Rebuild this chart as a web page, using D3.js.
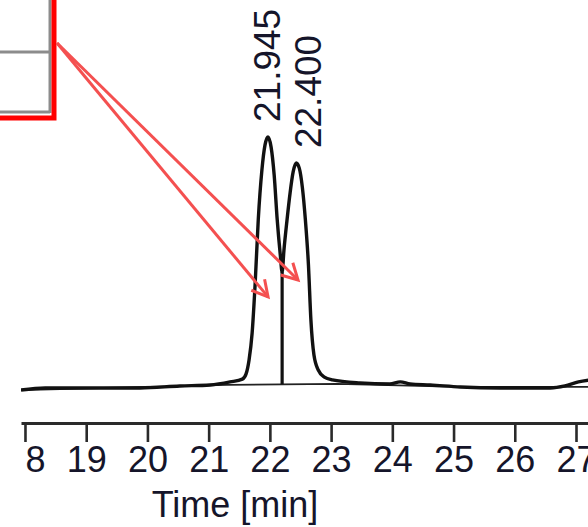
<!DOCTYPE html>
<html>
<head>
<meta charset="utf-8">
<script src="https://cdn.jsdelivr.net/npm/d3@7"></script>
<style>
  body { margin: 0; background: #fff; }
  svg { display: block; font-family: "Liberation Sans", Arial, sans-serif; }
</style>
</head>
<body>
<div id="chrom"></div>
<script>
// retention time (min) and detector signal (% of largest peak)
var sigTime = [17.935, 18.33, 19.06, 19.88, 20.53, 21.02, 21.35, 21.55, 21.61, 21.66, 21.71, 21.76,
               21.81, 21.87, 21.92, 21.97, 22.02, 22.07, 22.12, 22.17, 22.20, 22.23, 22.28, 22.33,
               22.38, 22.43, 22.48, 22.53, 22.58, 22.63, 22.67, 22.72, 22.79, 22.89, 23.02, 23.47,
               23.96, 24.13, 24.29, 24.62, 25.11, 25.76, 26.58, 26.82, 27.04, 27.23];
var sigValue = [0, 0.8, 0.8, 0.8, 1.6, 2.0, 3.2, 4.3, 6.3, 11.9, 22.5, 42.3,
                67.2, 87.0, 96.8, 100, 96.0, 85.0, 67.2, 53.4, 46.6, 55.3, 67.2, 77.9,
                86.2, 89.7, 87.7, 80.2, 67.2, 49.4, 27.7, 13.8, 7.9, 5.1, 4.0, 2.8,
                2.4, 3.2, 2.4, 2.0, 1.2, 0.8, 0.8, 1.6, 3.2, 4.0];

// integration baseline
var baseTime = [17.935, 21.3, 23.1, 25.1, 27.2];
var baseValue = [0, 2.0, 2.4, 1.2, 1.2];

// peaks: retention time label, apex, and drop line at the valley
var peakLabels = ["21.945", "22.400"];
var peakTime = [21.945, 22.43];
var peakValue = [100, 89.7];
var dropTime = 22.20;
var dropTop = 46.6;
var dropBottom = 2.3;

// red annotation arrows, targets in time / signal
var arrowTime = [21.97, 22.46];
var arrowValue = [36.8, 43.5];

var xTicks = [18, 19, 20, 21, 22, 23, 24, 25, 26, 27];
var xTitle = "Time [min]";

var w = 588, h = 527;
var leftEdge = 21, labelEdge = 24.5;

var xScale = d3.scaleLinear().domain([17.935, 27.196]).range([leftEdge, 588]);
var yScale = d3.scaleLinear().domain([0, 100]).range([390, 137]);

var svg = d3.select("#chrom").append("svg")
    .attr("width", w)
    .attr("height", h);

var defs = svg.append("defs");
defs.append("clipPath")
    .attr("id", "plotClip")
    .append("rect")
    .attr("x", leftEdge).attr("y", 0)
    .attr("width", w - leftEdge).attr("height", h);

var plot = svg.append("g").attr("clip-path", "url(#plotClip)");

var signal = sigTime.map(function(t, i) { return { t: t, v: sigValue[i] }; });
var base = baseTime.map(function(t, i) { return { t: t, v: baseValue[i] }; });

var line = d3.line()
    .curve(d3.curveMonotoneX)
    .x(function(d) { return xScale(d.t); })
    .y(function(d) { return yScale(d.v); });

plot.append("path")
    .datum(base)
    .attr("d", d3.line().x(function(d) { return xScale(d.t); }).y(function(d) { return yScale(d.v); }))
    .attr("fill", "none")
    .attr("stroke", "#222")
    .attr("stroke-width", 1.8);

plot.append("path")
    .datum(signal)
    .attr("d", line)
    .attr("fill", "none")
    .attr("stroke", "#111")
    .attr("stroke-width", 3.4)
    .attr("stroke-linejoin", "round");

// drop line between the two peaks
plot.append("line")
    .attr("x1", xScale(dropTime)).attr("x2", xScale(dropTime))
    .attr("y1", yScale(dropTop)).attr("y2", yScale(dropBottom))
    .attr("stroke", "#111")
    .attr("stroke-width", 3.2);

// peak labels, nudged right when they would overlap
var prevX = -Infinity;
peakLabels.forEach(function(lbl, i) {
    var cx = Math.max(xScale(peakTime[i]), prevX + 41);
    prevX = cx;
    plot.append("text")
        .attr("transform", "translate(" + (cx + 13) + "," + (yScale(peakValue[i]) - 15) + ") rotate(-90)")
        .attr("font-size", 37)
        .attr("fill", "#15152a")
        .text(lbl);
});

// x axis
var xAxis = d3.axisBottom(xScale)
    .tickValues(xTicks)
    .tickFormat(d3.format("d"))
    .tickSizeInner(19)
    .tickSizeOuter(0)
    .tickPadding(4);

var ax = plot.append("g")
    .attr("transform", "translate(0,423)")
    .call(xAxis);
ax.select(".domain").attr("stroke", "#2a2a2a").attr("stroke-width", 3.2);
ax.selectAll(".tick line").attr("stroke", "#2a2a2a").attr("stroke-width", 2.6);
ax.selectAll(".tick text")
    .attr("font-size", 36)
    .attr("font-family", "'Liberation Sans', Arial, sans-serif")
    .attr("fill", "#15152a");

// the first label is cut by the picture edge: clip it in its own tick space
ax.selectAll(".tick").each(function(d, i) {
    var tx = xScale(d);
    if (tx - 25 < labelEdge) {
        defs.append("clipPath")
            .attr("id", "tickClip" + i)
            .append("rect")
            .attr("x", labelEdge - tx).attr("y", -10)
            .attr("width", 200).attr("height", 100);
        d3.select(this).select("text").attr("clip-path", "url(#tickClip" + i + ")");
    }
});

svg.append("text")
    .attr("x", 235)
    .attr("y", 517)
    .attr("text-anchor", "middle")
    .attr("font-size", 36)
    .attr("fill", "#15152a")
    .text(xTitle);

// table fragment with red highlight box
svg.append("g").selectAll("line.grid")
    .data([[0, 52, 50, 52], [0, 112, 50, 112], [50, 0, 50, 113]])
    .enter().append("line")
    .attr("x1", function(d) { return d[0]; })
    .attr("y1", function(d) { return d[1]; })
    .attr("x2", function(d) { return d[2]; })
    .attr("y2", function(d) { return d[3]; })
    .attr("stroke", "#8c8c8c")
    .attr("stroke-width", 3);

svg.append("rect")
    .attr("x", -10).attr("y", -10)
    .attr("width", 64).attr("height", 128)
    .attr("fill", "none")
    .attr("stroke", "#ff0000")
    .attr("stroke-width", 5);

// arrows
var arrowColor = "#f45050";
arrowTime.forEach(function(t, i) {
    var x0 = 57, y0 = 43;
    var x1 = xScale(t), y1 = yScale(arrowValue[i]);
    var ang = Math.atan2(y1 - y0, x1 - x0);
    var len = 18, spread = 0.5;
    svg.append("line")
        .attr("x1", x0).attr("y1", y0)
        .attr("x2", x1).attr("y2", y1)
        .attr("stroke", arrowColor)
        .attr("stroke-width", 3);
    svg.append("path")
        .attr("d", "M" + (x1 - len * Math.cos(ang - spread)) + "," + (y1 - len * Math.sin(ang - spread)) +
                   "L" + x1 + "," + y1 +
                   "L" + (x1 - len * Math.cos(ang + spread)) + "," + (y1 - len * Math.sin(ang + spread)))
        .attr("fill", "none")
        .attr("stroke", arrowColor)
        .attr("stroke-width", 3);
});
</script>
</body>
</html>
